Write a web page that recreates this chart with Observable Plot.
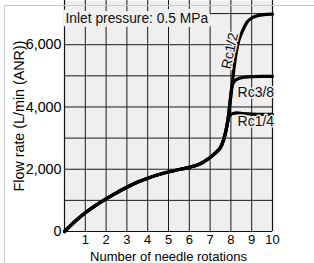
<!DOCTYPE html>
<html><head><meta charset="utf-8">
<script src="https://cdn.jsdelivr.net/npm/d3@7"></script>
<script src="https://cdn.jsdelivr.net/npm/@observablehq/plot@0.6"></script>
<style>
body{margin:0;background:#fff;}
#wrap{position:relative;width:314px;height:263px;}
#border{position:absolute;left:4px;top:5px;right:0;bottom:0;border-top:1px solid #c8c8c8;border-left:1px solid #c8c8c8;pointer-events:none;}
</style>
</head><body>
<div id="wrap"><div id="chart"></div><div id="border"></div></div>
<script>
// Shared part of the curve (needle rotations, flow rate)
const baseX = [0, 0.5, 1, 1.5, 2, 2.5, 3, 3.5, 4, 4.5, 5, 5.5, 6, 6.5, 7, 7.3, 7.5, 7.65, 7.75, 7.85];
const baseY = [0, 320, 600, 840, 1050, 1240, 1420, 1580, 1710, 1820, 1910, 1990, 2060, 2170, 2380, 2550, 2700, 2950, 3200, 3550];
// Branches per port size
const rc14X = [7.95, 8.1, 8.3, 8.6, 9, 9.5, 10];
const rc14Y = [3720, 3790, 3810, 3790, 3770, 3760, 3760];
const rc38X = [7.95, 8.05, 8.2, 8.4, 8.7, 9, 9.5, 10];
const rc38Y = [4100, 4650, 4850, 4920, 4960, 4975, 4980, 4980];
const rc12X = [7.95, 8.05, 8.15, 8.32, 8.54, 8.78, 9.1, 9.5, 10];
const rc12Y = [4100, 4650, 5250, 5980, 6410, 6730, 6890, 6960, 6980];
const seriesNames = ["Rc1/4", "Rc3/8", "Rc1/2"];
const xTicks = [1, 2, 3, 4, 5, 6, 7, 8, 9, 10];
const yTicks = [0, 2000, 4000, 6000];
const xGrid = [1, 2, 3, 4, 5, 6, 7, 8, 9];
const yGrid = [1000, 2000, 3000, 4000, 5000, 6000, 7000];
const seriesLabels = [
  {text: "Rc1/2", x: 7.95, y: 5800, rotate: -78},
  {text: "Rc3/8", x: 9.2, y: 4480, rotate: 0},
  {text: "Rc1/4", x: 9.2, y: 3520, rotate: 0}
];
const note = "Inlet pressure: 0.5 MPa";

const branches = [[rc14X, rc14Y], [rc38X, rc38Y], [rc12X, rc12Y]];
const data = [];
seriesNames.forEach((s, i) => {
  baseX.forEach((x, j) => data.push({series: s, x, y: baseY[j]}));
  branches[i][0].forEach((x, j) => data.push({series: s, x, y: branches[i][1][j]}));
});

const bg = "#efefef";
const font = "Liberation Sans, Arial, Helvetica, sans-serif";
const chart = Plot.plot({
  width: 314, height: 263,
  marginLeft: 64, marginRight: 42, marginTop: 0, marginBottom: 32,
  style: {fontFamily: font, fontSize: "13px", background: "transparent"},
  x: {domain: [0, 10]},
  y: {domain: [0, 7420]},
  marks: [
    Plot.frame({fill: bg, stroke: null}),
    Plot.ruleX(xGrid, {stroke: "#1a1a1a", strokeWidth: 1}),
    Plot.ruleY(yGrid, {stroke: "#1a1a1a", strokeWidth: 1}),
    Plot.ruleX([0, 10], {stroke: "#111", strokeWidth: 1.2}),
    Plot.ruleY([0], {stroke: "#111", strokeWidth: 1.2}),
    Plot.text([note], {frameAnchor: "top-left", dx: 1, dy: 13, text: d => d, textAnchor: "start", fontSize: 13.8, fill: "#111", stroke: bg, strokeWidth: 8}),
    Plot.line(data, {x: "x", y: "y", z: "series", stroke: "#000", strokeWidth: 3.2, curve: "monotone-x"}),
    Plot.text(seriesLabels, {x: "x", y: "y", text: "text", rotate: "rotate", fontSize: 14, fill: "#111", stroke: bg, strokeWidth: 3}),
    Plot.axisX({ticks: xTicks, tickSize: 0, tickPadding: 3, fontSize: 13, label: "Number of needle rotations", labelAnchor: "center", labelArrow: "none", labelOffset: 29}),
    Plot.axisY({ticks: yTicks, tickSize: 0, tickPadding: 3, fontSize: 14.3, tickFormat: d3.format(","), label: "Flow rate (L/min (ANR))", labelAnchor: "center", labelArrow: "none", labelOffset: 51})
  ]
});
document.getElementById("chart").appendChild(chart);
</script>
</body></html>
